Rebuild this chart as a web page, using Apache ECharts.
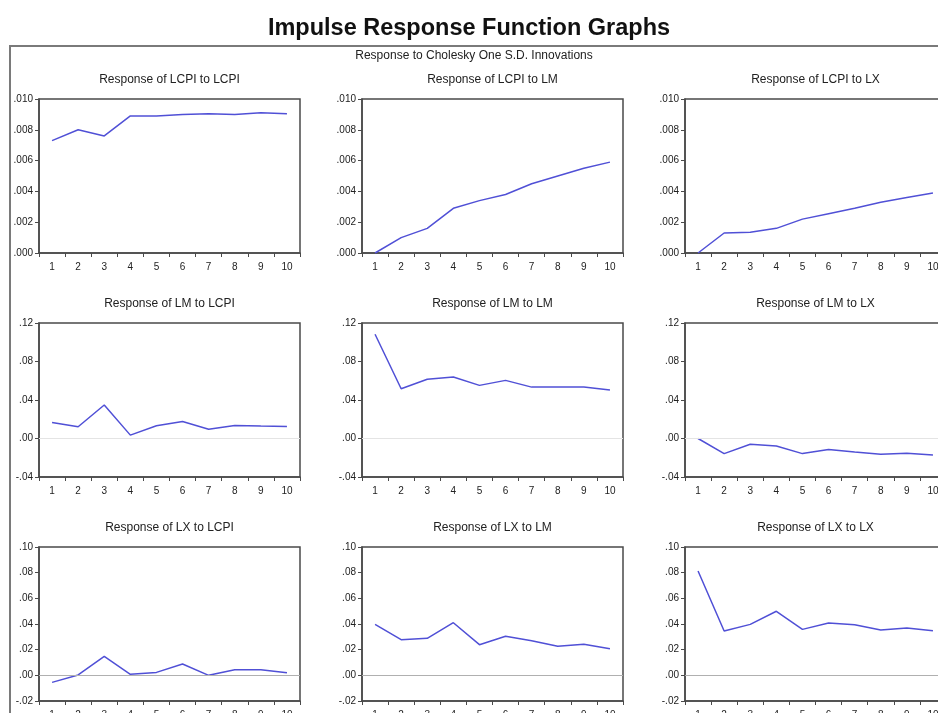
<!DOCTYPE html>
<html>
<head>
<meta charset="utf-8">
<script src="https://cdn.jsdelivr.net/npm/echarts@6/dist/echarts.min.js"></script>
<style>html,body{margin:0;padding:0;background:#fff}#c{width:938px;height:713px}</style>
</head>
<body>
<div id="c"></div>
<script>
var periods = ['1','2','3','4','5','6','7','8','9','10'];

var panelTitles = [
  'Response of LCPI to LCPI','Response of LCPI to LM','Response of LCPI to LX',
  'Response of LM to LCPI','Response of LM to LM','Response of LM to LX',
  'Response of LX to LCPI','Response of LX to LM','Response of LX to LX'
];

var lcpiToLcpi = [0.0073, 0.0080, 0.0076, 0.0089, 0.0089, 0.0090, 0.00905, 0.0090, 0.0091, 0.00905];
var lcpiToLm   = [0.0000, 0.0010, 0.0016, 0.0029, 0.0034, 0.0038, 0.0045, 0.0050, 0.0055, 0.0059];
var lcpiToLx   = [0.0000, 0.0013, 0.00135, 0.0016, 0.0022, 0.00255, 0.0029, 0.0033, 0.0036, 0.0039];

var lmToLcpi = [0.0167, 0.0122, 0.0348, 0.0035, 0.0132, 0.0177, 0.0097, 0.0136, 0.0129, 0.0125];
var lmToLm   = [0.1083, 0.0517, 0.0615, 0.0639, 0.0552, 0.0604, 0.0534, 0.0534, 0.0534, 0.0503];
var lmToLx   = [0.0000, -0.0157, -0.0059, -0.0077, -0.0157, -0.0115, -0.0140, -0.0164, -0.0154, -0.0171];

var lxToLcpi = [-0.0055, 0.0003, 0.0148, 0.0008, 0.0023, 0.0088, 0.0000, 0.0044, 0.0044, 0.0021];
var lxToLm   = [0.0397, 0.0278, 0.0288, 0.0410, 0.0239, 0.0304, 0.0270, 0.0226, 0.0242, 0.0208];
var lxToLx   = [0.0813, 0.0345, 0.0397, 0.0499, 0.0358, 0.0408, 0.0395, 0.0353, 0.0369, 0.0348];

var rowMin = [0, -0.04, -0.02];
var rowMax = [0.010, 0.12, 0.10];
var rowInterval = [0.002, 0.04, 0.02];
var rowDecimals = [3, 2, 2];

var seriesData = [lcpiToLcpi, lcpiToLm, lcpiToLx, lmToLcpi, lmToLm, lmToLx, lxToLcpi, lxToLm, lxToLx];

var colLeft = [39, 362, 685];
var rowTop = [99, 323, 547];
var plotW = 261, plotH = 154;
var zeroLineColor = [null, '#e4e4e4', '#b0b0b0'];

function fmt(dec) {
  return function (v) {
    var s = Math.abs(v).toFixed(dec).replace(/^0/, '');
    return (v < -1e-12 ? '-' : '') + s;
  };
}

var grids = [], xAxes = [], yAxes = [], series = [], graphics = [];

graphics.push({type:'rect', shape:{x:10, y:46, width:960, height:720},
  style:{fill:'none', stroke:'#7a7a7a', lineWidth:2}, z:0});
graphics.push({type:'text', x:469, y:29, style:{text:'Impulse Response Function Graphs',
  font:'bold 23.5px "Liberation Sans", Arial, sans-serif', fill:'#111', textAlign:'center', textVerticalAlign:'middle', align:'center', verticalAlign:'middle'}});
graphics.push({type:'text', x:474, y:56, style:{text:'Response to Cholesky One S.D. Innovations',
  font:'12px "Liberation Sans", Arial, sans-serif', fill:'#222', textAlign:'center', textVerticalAlign:'middle', align:'center', verticalAlign:'middle'}});

for (var i = 0; i < 9; i++) {
  var r = Math.floor(i / 3), c = i % 3;
  grids.push({left: colLeft[c], top: rowTop[r], width: plotW, height: plotH,
    outerBoundsMode: 'none',
    show: true, borderColor: '#4a4a4a', borderWidth: 1.5, backgroundColor: '#fff', containLabel: false});
  xAxes.push({type: 'category', gridIndex: i, data: periods, boundaryGap: true,
    axisLine: {show: true, onZero: false, lineStyle: {color: '#4a4a4a', width: 1.5}},
    axisTick: {show: true, length: 4, inside: false, lineStyle: {color: '#4a4a4a'}},
    axisLabel: {color: '#222', fontSize: 10, margin: 9, fontFamily: 'Liberation Sans, Arial, sans-serif'},
    splitLine: {show: false}});
  yAxes.push({type: 'value', gridIndex: i, min: rowMin[r], max: rowMax[r], interval: rowInterval[r],
    axisLine: {show: true, onZero: false, lineStyle: {color: '#4a4a4a', width: 1.5}},
    axisTick: {show: true, length: 4, inside: false, lineStyle: {color: '#4a4a4a'}},
    axisLabel: {color: '#222', fontSize: 10, margin: 6, formatter: fmt(rowDecimals[r]), fontFamily: 'Liberation Sans, Arial, sans-serif'},
    splitLine: {show: false}});
  var s = {type: 'line', xAxisIndex: i, yAxisIndex: i, data: seriesData[i], symbol: 'none',
    lineStyle: {color: '#5050d6', width: 1.5}, silent: true, animation: false};
  if (zeroLineColor[r]) {
    s.markLine = {silent: true, symbol: 'none', label: {show: false},
      lineStyle: {color: zeroLineColor[r], type: 'solid', width: 1.2}, data: [{yAxis: 0}], animation: false};
  }
  series.push(s);
  graphics.push({type:'text', x: colLeft[c] + plotW / 2, y: rowTop[r] - 19, style:{text: panelTitles[i],
    font:'12px "Liberation Sans", Arial, sans-serif', fill:'#222', textAlign:'center', textVerticalAlign:'middle', align:'center', verticalAlign:'middle'}});
}

var chart = echarts.init(document.getElementById('c'), null, {renderer: 'canvas'});
chart.setOption({
  backgroundColor: '#fff',
  animation: false,
  grid: grids, xAxis: xAxes, yAxis: yAxes, series: series,
  graphic: graphics
});
</script>
</body>
</html>
